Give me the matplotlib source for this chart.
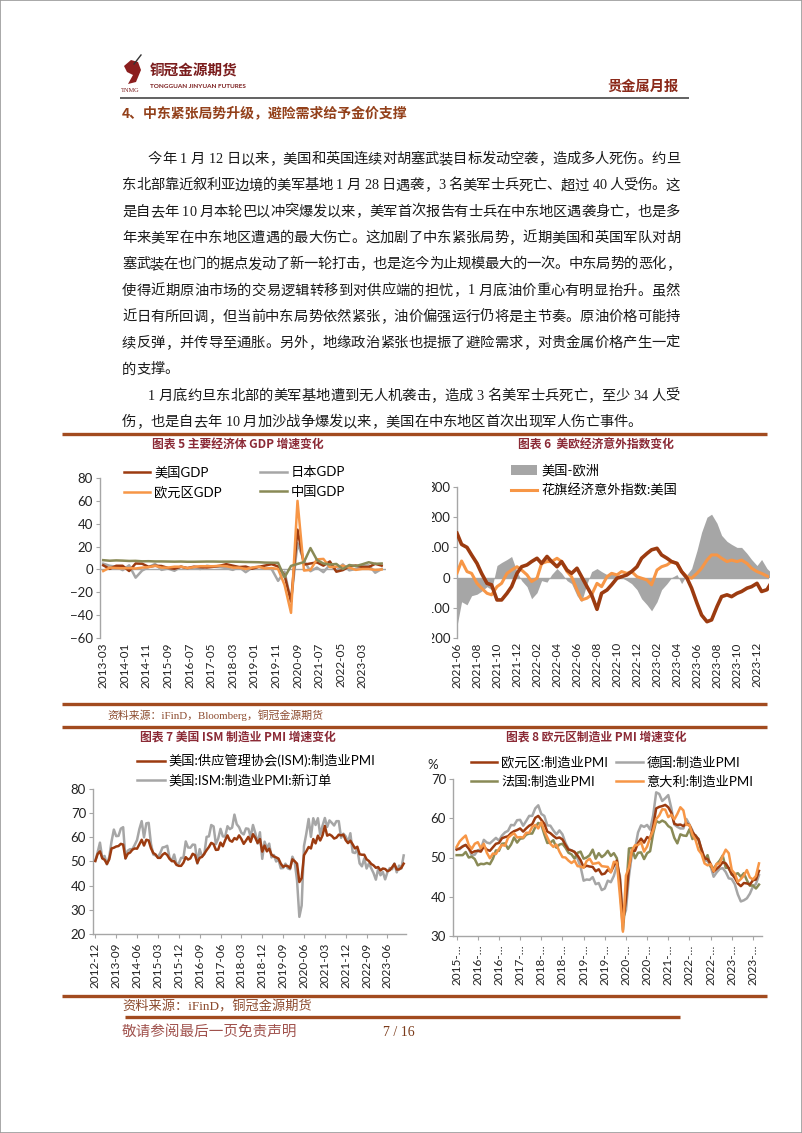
import numpy as np
import pandas as pd
import matplotlib
matplotlib.use('Agg')
import matplotlib.pyplot as plt
from matplotlib.transforms import Affine2D
from matplotlib.lines import Line2D
from matplotlib.patches import Patch, Rectangle, Polygon

# ---------------- data ----------------
# Chart 5: quarterly GDP growth (%), 2013Q1 .. 2023Q4
GDP_DATES = pd.date_range('2013-03-01', '2023-12-01', freq='3MS')
GDP_US = [3.6, 0.5, 3.2, 3.2, -1.4, 5.2, 5.0, 2.3, 3.2, 3.0, 1.3, 0.6,
          2.4, 1.2, 2.4, 2.0, 1.7, 2.3, 3.2, 4.6, 3.3, 2.1, 2.5, 0.6,
          2.2, 3.4, 4.6, 2.6, -5.3, -28.0, 34.8, 4.2, 5.2, 6.2, 3.3, 7.0,
          -2.0, -0.6, 2.7, 3.4, 2.2, 2.1, 4.9, 3.3]
GDP_JP = [5.0, 3.2, 2.4, -0.6, 3.6, -7.2, -1.0, 2.0, 4.8, -0.4, 0.8, -1.2,
          2.4, 0.8, 1.2, 0.4, 3.2, 2.4, 2.0, 1.2, -0.4, 2.0, -2.4, 1.6,
          2.4, 0.8, 0.4, -10.0, -2.0, -28.0, 22.9, 7.6, -1.6, 1.6, -2.4, 4.0,
          -1.2, 4.4, -0.8, 0.4, 3.2, 3.6, -2.9, 0.4]
GDP_EZ = [-1.4, 1.6, 1.2, 1.0, 1.2, 0.8, 1.6, 2.0, 3.2, 1.6, 1.6, 2.4,
          2.4, 1.2, 2.0, 2.8, 2.8, 2.8, 3.2, 2.8, 1.6, 1.6, 0.4, 1.6,
          2.4, 0.8, 1.2, 0.4, -13.6, -38.0, 60.0, -1.0, -0.4, 8.8, 9.2, 2.0,
          2.4, 3.2, 1.6, -0.4, 0.4, 0.4, -0.4, 0.0]
GDP_CN = [8.1, 7.6, 7.9, 7.7, 7.4, 7.5, 7.1, 7.2, 7.0, 7.0, 6.9, 6.8,
          6.9, 6.7, 6.7, 6.8, 6.9, 6.9, 6.8, 6.8, 6.8, 6.7, 6.5, 6.4,
          6.3, 6.0, 5.9, 5.8, -6.9, 3.1, 4.8, 6.4, 18.7, 8.3, 5.2, 4.3,
          4.8, 0.4, 3.9, 2.9, 4.5, 6.3, 4.9, 5.2]
GDP_TICKS = ['2013-03', '2014-01', '2014-11', '2015-09', '2016-07', '2017-05', '2018-03',
             '2019-01', '2019-11', '2020-09', '2021-07', '2022-05', '2023-03']

# Chart 6: Citi economic surprise indices (semi-monthly readings)
CESI_DATES = pd.date_range('2021-06-01', '2024-01-15', freq='SMS')
CESI_EU = [147, 110, 100, 75, 47, 14, -19, -24, -74, -74, -52, -30, 14, 36,
           42, 53, 64, 47, 70, 53, 36, 53, 25, 14, 31, 3, -30, -57, -105, -52,
           -41, -24, -2, 3, 9, 20, 36, 64, 80, 92, 97, 75, 64, 53, 47, 20,
           -2, -35, -85, -124, -146, -140, -96, -63, -57, -63, -52, -46, -35, -30,
           -19, -46, -40, -15]
CESI_US = [15, 55, 20, 14, -19, -35, -52, -57, -30, -19, 14, 25, 36, 25,
           9, -13, -2, 47, 53, 53, 64, 53, 20, 3, -41, -74, -68, -57, -19, -30,
           3, 14, 9, 20, 14, 20, 3, -2, -8, -24, 25, 36, 42, 53, 47, 20,
           3, -2, 14, 31, 58, 75, 75, 64, 53, 58, 53, 58, 47, 31,
           20, 14, 5, 0]
CESI_DIFF = [-160, -80, -90, -60, -55, -45, -30, -40, 40, 50, 60, 70, 20, -10,
             -30, -70, -50, -10, -15, 10, 30, 15, -10, -20, -60, -80, -20, 20, 30, 20,
             10, 20, 10, 0, -10, -20, -40, -70, -90, -110, -80, -40, -20, 0, 10, -20,
             10, 30, 90, 150, 200, 210, 180, 140, 120, 110, 100, 100, 80, 60,
             40, 60, 30, 15]
CESI_TICKS = ['2021-06', '2021-08', '2021-10', '2021-12', '2022-02', '2022-04', '2022-06',
              '2022-08', '2022-10', '2022-12', '2023-02', '2023-04', '2023-06', '2023-08',
              '2023-10', '2023-12']

# Chart 7: ISM manufacturing, 2012-12 .. 2024-01
ISM_DATES = pd.date_range('2012-12-01', '2024-01-01', freq='MS')
ISM_PMI = [50.2,
           53.1, 54.2, 51.3, 50.7, 49.0, 50.9, 55.4, 55.7, 56.2, 56.4, 57.3, 57.0,
           51.3, 53.2, 53.7, 54.9, 55.4, 55.3, 57.1, 59.0, 56.6, 59.0, 58.7, 55.5,
           53.5, 52.9, 51.5, 51.5, 52.8, 53.5, 52.7, 51.1, 50.2, 50.1, 48.6, 48.2,
           48.2, 49.5, 51.8, 50.8, 51.3, 53.2, 52.6, 49.4, 51.5, 51.9, 53.2, 54.7,
           56.0, 57.7, 57.2, 54.8, 54.9, 57.8, 56.3, 58.8, 60.8, 58.7, 58.2, 59.7,
           59.1, 60.8, 59.3, 57.3, 58.7, 60.2, 58.1, 61.3, 59.8, 57.7, 59.3, 54.1,
           56.6, 54.2, 55.3, 52.8, 52.1, 51.7, 51.2, 49.1, 47.8, 48.3, 48.1, 47.2,
           50.9, 50.1, 49.1, 41.5, 43.1, 52.6, 54.2, 56.0, 55.4, 59.3, 57.5, 60.7,
           58.7, 60.8, 64.7, 60.7, 61.2, 60.6, 59.5, 59.9, 61.1, 60.8, 61.1, 58.8,
           57.6, 58.6, 57.1, 55.4, 56.1, 53.0, 52.8, 52.8, 50.9, 50.2, 49.0, 48.4,
           47.4, 47.7, 46.3, 47.1, 46.9, 46.0, 46.4, 47.6, 49.0, 46.7, 46.7, 47.4,
           49.1]
ISM_NEW_ORDERS = [50.3,
                  53.8, 57.8, 51.4, 52.3, 48.8, 51.9, 58.3, 63.2, 60.5, 60.6, 63.6, 64.2,
                  51.2, 54.5, 55.1, 55.1, 56.9, 58.9, 63.4, 66.7, 60.0, 65.8, 66.0, 57.3,
                  52.9, 52.5, 51.8, 53.5, 55.8, 56.0, 56.5, 51.7, 50.1, 52.9, 48.9, 49.2,
                  51.5, 51.5, 58.3, 55.8, 55.7, 57.0, 56.9, 49.1, 55.1, 52.1, 53.0, 60.2,
                  60.4, 65.1, 64.5, 57.2, 59.5, 63.5, 60.4, 60.3, 64.6, 63.4, 64.0, 69.4,
                  65.4, 64.2, 61.9, 61.2, 63.7, 63.5, 60.2, 65.1, 61.8, 57.4, 62.1, 51.1,
                  58.2, 55.5, 57.4, 51.7, 52.7, 50.0, 50.8, 47.2, 47.3, 49.1, 47.2, 46.8,
                  52.0, 49.8, 42.2, 27.1, 31.8, 56.4, 61.5, 67.6, 60.2, 67.9, 65.1, 67.9,
                  61.1, 64.8, 68.0, 64.3, 67.0, 66.0, 64.9, 66.7, 66.7, 59.8, 61.5, 60.4,
                  57.9, 61.7, 53.8, 53.5, 55.1, 49.2, 48.0, 51.3, 47.1, 49.2, 47.2, 45.2,
                  42.5, 47.0, 44.3, 45.7, 42.6, 45.6, 47.3, 46.8, 49.2, 45.5, 48.3, 47.1,
                  52.5]
ISM_TICKS = ['2012-12', '2013-09', '2014-06', '2015-03', '2015-12', '2016-09', '2017-06',
             '2018-03', '2018-12', '2019-09', '2020-06', '2021-03', '2021-12', '2022-09',
             '2023-06']

# Chart 8: euro area manufacturing PMI, 2015-09 .. 2024-01
EPMI_DATES = pd.date_range('2015-09-01', '2024-01-01', freq='MS')
EPMI_EZ = [52.0, 52.3, 52.8, 53.2,
           52.3, 51.2, 51.6, 51.7, 51.5, 52.8, 52.0, 51.7, 52.6, 53.5, 53.7, 54.9,
           55.2, 55.4, 56.2, 56.7, 57.0, 57.4, 56.6, 57.4, 58.1, 58.5, 60.1, 60.6,
           59.6, 58.6, 56.6, 56.2, 55.5, 54.9, 55.1, 54.6, 53.2, 52.0, 51.8, 51.4,
           50.5, 49.3, 47.5, 47.9, 47.7, 47.6, 46.5, 47.0, 45.7, 45.9, 46.9, 46.3,
           47.9, 49.2, 44.5, 33.4, 39.4, 47.4, 51.8, 51.7, 53.7, 54.8, 53.8, 55.2,
           54.8, 57.9, 62.5, 62.9, 63.1, 63.4, 62.8, 61.4, 58.6, 58.3, 58.4, 58.0,
           58.7, 58.2, 56.5, 55.5, 54.6, 52.1, 49.8, 49.6, 48.4, 46.4, 47.1, 47.8,
           48.8, 48.5, 47.3, 45.8, 44.8, 43.4, 42.7, 43.5, 43.4, 43.1, 44.2, 44.4,
           46.6]
EPMI_DE = [52.3, 52.1, 52.9, 53.2,
           52.3, 50.5, 50.7, 51.8, 52.1, 54.5, 53.8, 53.6, 54.3, 55.0, 54.3, 55.6,
           56.4, 56.8, 58.3, 58.2, 59.5, 59.6, 58.1, 59.3, 60.6, 60.6, 62.5, 63.3,
           61.1, 60.6, 58.2, 58.1, 56.9, 55.9, 56.9, 55.9, 53.7, 52.2, 51.8, 51.5,
           49.7, 47.6, 44.1, 44.4, 44.3, 45.0, 43.2, 43.5, 41.7, 42.1, 44.1, 43.7,
           45.3, 48.0, 45.4, 34.5, 36.6, 45.2, 51.0, 52.2, 56.4, 58.2, 57.8, 58.3,
           57.1, 60.7, 66.6, 66.2, 64.4, 65.1, 65.9, 62.6, 58.4, 57.8, 57.4, 57.4,
           59.8, 58.4, 56.9, 54.6, 54.8, 52.0, 49.3, 49.1, 47.8, 45.1, 46.2, 47.1,
           47.3, 46.3, 44.7, 44.5, 43.2, 40.6, 38.8, 39.1, 39.6, 40.8, 42.6, 43.3,
           45.5]
EPMI_FR = [50.6, 50.6, 50.6, 51.4,
           50.0, 50.2, 49.6, 48.0, 48.4, 48.3, 48.6, 48.3, 49.7, 51.8, 51.7, 53.5,
           53.6, 52.2, 53.3, 55.1, 53.8, 54.8, 54.9, 55.8, 56.1, 56.1, 57.7, 58.8,
           58.4, 55.9, 53.7, 53.8, 54.4, 52.5, 53.3, 53.5, 52.5, 51.2, 50.8, 49.7,
           51.2, 51.5, 49.7, 50.0, 50.6, 52.0, 49.7, 51.1, 50.1, 50.7, 51.7, 50.4,
           51.1, 49.8, 43.2, 31.5, 40.6, 52.3, 52.4, 49.8, 51.2, 51.3, 49.6, 51.1,
           51.6, 56.1, 59.3, 58.9, 59.4, 59.0, 58.0, 57.5, 55.0, 53.6, 55.9, 55.6,
           55.5, 57.2, 54.7, 55.7, 54.6, 51.4, 49.5, 50.6, 47.7, 47.2, 48.3, 49.2,
           50.5, 47.4, 47.3, 45.6, 45.7, 46.0, 45.1, 46.0, 44.2, 42.8, 42.9, 42.1,
           43.1]
EPMI_IT = [52.7, 54.1, 54.9, 55.6,
           53.2, 52.2, 53.5, 53.9, 52.4, 53.5, 51.2, 49.8, 51.0, 50.9, 52.2, 53.2,
           53.0, 55.0, 55.7, 56.2, 55.1, 55.2, 55.1, 56.3, 56.3, 57.8, 58.3, 57.4,
           59.0, 56.8, 55.1, 53.5, 52.7, 53.3, 51.5, 50.1, 50.0, 49.2, 48.6, 49.2,
           47.8, 47.7, 47.4, 49.1, 49.7, 48.4, 48.5, 48.7, 47.8, 47.7, 47.6, 46.2,
           48.9, 48.7, 40.3, 31.1, 45.4, 47.5, 51.9, 53.1, 53.2, 53.9, 51.5, 52.8,
           55.1, 56.9, 59.8, 60.7, 62.3, 62.2, 60.3, 60.9, 59.7, 61.1, 62.8, 62.0,
           58.3, 58.3, 55.8, 54.5, 51.9, 50.9, 48.5, 48.0, 48.3, 46.5, 48.4, 48.5,
           50.4, 52.0, 51.1, 46.8, 45.9, 43.8, 44.5, 45.4, 46.8, 44.9, 44.4, 45.3,
           48.5]
EPMI_TICKS = ['2015-09', '2016-04', '2016-11', '2017-06', '2018-01', '2018-08', '2019-03',
              '2019-10', '2020-05', '2020-12', '2021-07', '2022-02', '2022-09', '2023-04',
              '2023-11']

# page text
SECTION_TITLE = '4、中东紧张局势升级，避险需求给予金价支撑'
BODY_LINES = [
    '今年 1 月 12 日以来，美国和英国连续对胡塞武装目标发动空袭，造成多人死伤。约旦',
    '东北部靠近叙利亚边境的美军基地 1 月 28 日遇袭，3 名美军士兵死亡、超过 40 人受伤。这',
    '是自去年 10 月本轮巴以冲突爆发以来，美军首次报告有士兵在中东地区遇袭身亡，也是多',
    '年来美军在中东地区遭遇的最大伤亡。这加剧了中东紧张局势，近期美国和英国军队对胡',
    '塞武装在也门的据点发动了新一轮打击，也是迄今为止规模最大的一次。中东局势的恶化，',
    '使得近期原油市场的交易逻辑转移到对供应端的担忧，1 月底油价重心有明显抬升。虽然',
    '近日有所回调，但当前中东局势依然紧张，油价偏强运行仍将是主节奏。原油价格可能持',
    '续反弹，并传导至通胀。另外，地缘政治紧张也提振了避险需求，对贵金属价格产生一定',
    '的支撑。',
    '1 月底约旦东北部的美军基地遭到无人机袭击，造成 3 名美军士兵死亡，至少 34 人受',
    '伤，也是自去年 10 月加沙战争爆发以来，美国在中东地区首次出现军人伤亡事件。',
]
INDENT_LINES = [0, 9]
LAST_LINES = [8, 10]

# ---------------- style ----------------
BROWN = '#9C3B10'
ORANGE = '#F79646'
GRAY = '#A6A6A6'
OLIVE = '#898A56'
RULE = '#A24B1F'
TITLE_RED = '#8B2A36'
AXIS_GRAY = '#A6A6A6'
CHART_FONT = ['Lato', 'Noto Sans CJK SC']
BODY_FONT = ['Liberation Serif', 'Noto Sans CJK SC']
CJK = ['Noto Sans CJK SC', 'DejaVu Sans']
plt.rcParams['font.family'] = CHART_FONT

W, H = 802, 1133
fig = plt.figure(figsize=(W / 100, H / 100), dpi=100)
fig.patch.set_facecolor('white')
PX = Affine2D().scale(1 / W, -1 / H).translate(0, 1) + fig.transFigure


def px_axes(l, t, r, b):
    return fig.add_axes([l / W, 1 - b / H, (r - l) / W, (b - t) / H])


def month_pos(dates, origin):
    d = pd.DatetimeIndex(pd.to_datetime(dates))
    o = pd.Timestamp(origin)
    return ((d.year - o.year) * 12 + (d.month - o.month) + (d.day - 1) / 30.5).to_numpy()


def hline(x0, x1, y, color, lw):
    fig.add_artist(Line2D([x0, x1], [y, y], transform=PX, color=color, lw=lw,
                          solid_capstyle='butt'))


def style_axes(ax, bottom_axis):
    for s in ['top', 'right']:
        ax.spines[s].set_visible(False)
    ax.spines['left'].set_color(AXIS_GRAY)
    ax.spines['left'].set_linewidth(1.0)
    if bottom_axis:
        ax.spines['bottom'].set_color(AXIS_GRAY)
        ax.spines['bottom'].set_linewidth(1.0)
        ax.tick_params(axis='x', length=3, color=AXIS_GRAY)
    else:
        ax.spines['bottom'].set_visible(False)
        ax.tick_params(axis='x', length=0)
    ax.tick_params(axis='y', length=3, color=AXIS_GRAY, labelsize=9.5,
                   labelcolor='#222222', pad=2)
    ax.tick_params(axis='x', labelsize=8.5, labelcolor='#222222', pad=3)
    ax.set_facecolor('none')


def set_xlabels(ax, ticks, origin, labels=None):
    ax.set_xticks(month_pos(ticks, origin))
    ax.set_xticklabels(labels if labels is not None else ticks, rotation=90)


def place_legend(ax, handles, labels, x, y, **kw):
    leg = ax.legend(handles, labels, loc='upper left',
                    bbox_to_anchor=(x / W, 1 - y / H), bbox_transform=fig.transFigure,
                    frameon=False, borderaxespad=0, borderpad=0, prop={'size': 9.5},
                    handletextpad=0.3, **kw)
    return leg


# ---------------- page header ----------------
fig.add_artist(Rectangle((0, 0), 1, 1, transform=fig.transFigure, fill=False,
                         ec='#9A9A9A', lw=1.2))
fig.add_artist(Polygon([(124, 66), (131, 60), (138, 62), (141, 70), (136, 82),
                        (128, 84), (133, 75), (127, 72)], closed=True, transform=PX,
                       fc='#8B1E1E', ec='none'))
fig.add_artist(Line2D([134, 141], [64, 55], transform=PX, color='#333333', lw=1))
fig.text(150, 71, '铜冠金源期货', transform=PX, family=CJK, fontsize=10.5,
         fontweight='bold', color='#7A1C1C', va='center', ha='left')
fig.text(150, 86, 'TONGGUAN JINYUAN FUTURES', transform=PX, family=CHART_FONT,
         fontsize=4.6, fontweight='bold', color='#7A1C1C', va='center', ha='left')
fig.text(121, 90, 'TNMG', transform=PX, family=BODY_FONT, fontsize=4.6,
         color='#7A1C1C', va='center', ha='left')
fig.text(679, 87, '贵金属月报', transform=PX, family=CJK, fontsize=10.3,
         fontweight='bold', color='#8B2A1A', va='center', ha='right')
hline(120, 689, 97.5, '#555555', 1.3)
fig.text(122, 113, SECTION_TITLE, transform=PX, family=CJK, fontsize=10,
         fontweight='bold', color='#93401A', va='center', ha='left')

# ---------------- body text (justified) ----------------
renderer = fig.canvas.get_renderer()
BODY_SIZE = 10.3
space_w = BODY_SIZE * 100 / 72 * 0.25


def draw_line(s, x0, y, x1=None):
    items, pending = [], 0
    for ch in s:
        if ch == ' ':
            pending += 1
            continue
        t = fig.text(0, 0, ch, transform=PX, family=BODY_FONT, fontsize=BODY_SIZE,
                     color='#1A1A1A', va='baseline', ha='left')
        items.append((t, pending))
        pending = 0
    widths = [t.get_window_extent(renderer).width for t, _ in items]
    natural = sum(widths) + sum(p for _, p in items) * space_w
    extra = 0.0
    if x1 is not None and len(items) > 1:
        extra = (x1 - x0 - natural) / (len(items) - 1)
    x = x0
    for i, (t, p) in enumerate(items):
        if i > 0:
            x += p * space_w + extra
        t.set_position((x, y))
        x += widths[i]


for i, line in enumerate(BODY_LINES):
    y = 163 + i * 26.3
    x0 = 148 if i in INDENT_LINES else 122
    draw_line(line, x0, y, None if i in LAST_LINES else 680)

# ---------------- rules and captions ----------------
hline(62, 767, 434, RULE, 2.4)
hline(62, 767, 704, RULE, 2.4)
hline(62, 767, 727, RULE, 2.4)
hline(62, 767, 996, RULE, 2.4)
hline(125, 680, 1017, RULE, 2.4)

fig.text(238, 445, '图表 5 主要经济体 GDP 增速变化', transform=PX, family=CJK, fontsize=8.5,
         fontweight='bold', color=TITLE_RED, va='center', ha='center')
fig.text(596, 445, '图表 6  美欧经济意外指数变化', transform=PX, family=CJK, fontsize=8.5,
         fontweight='bold', color=TITLE_RED, va='center', ha='center')
fig.text(238, 737, '图表 7 美国 ISM 制造业 PMI 增速变化', transform=PX, family=CJK, fontsize=8.5,
         fontweight='bold', color=TITLE_RED, va='center', ha='center')
fig.text(596, 737, '图表 8 欧元区制造业 PMI 增速变化', transform=PX, family=CJK, fontsize=8.5,
         fontweight='bold', color=TITLE_RED, va='center', ha='center')
fig.text(107, 715, '资料来源：iFinD，Bloomberg，铜冠金源期货', transform=PX, family=BODY_FONT,
         fontsize=7.8, color='#8C4B2E', va='center', ha='left')
fig.text(122, 1007, '资料来源：iFinD，铜冠金源期货', transform=PX, family=BODY_FONT,
         fontsize=9.5, color='#8C4B2E', va='center', ha='left')
fig.text(122, 1032, '敬请参阅最后一页免责声明', transform=PX, family=CJK, fontsize=10.5,
         color='#A0524D', va='center', ha='left', fontstyle='italic')
fig.text(399, 1032, '7 / 16', transform=PX, family=BODY_FONT, fontsize=10,
         color='#7B3B1A', va='center', ha='center')

# ---------------- chart 5: GDP ----------------
ax5 = px_axes(100, 478, 386, 638)
x5 = month_pos(GDP_DATES, '2013-03-01')
ax5.axhline(0, color=AXIS_GRAY, lw=1, zorder=1)
l_jp, = ax5.plot(x5, GDP_JP, color=GRAY, lw=1.8)
l_us, = ax5.plot(x5, GDP_US, color=BROWN, lw=1.8)
l_ez, = ax5.plot(x5, GDP_EZ, color=ORANGE, lw=1.8)
l_cn, = ax5.plot(x5, GDP_CN, color=OLIVE, lw=1.8)
ax5.set_xlim(-1.5, 131)
ax5.set_ylim(-60, 80)
ax5.set_yticks(range(-60, 81, 20))
style_axes(ax5, bottom_axis=False)
set_xlabels(ax5, GDP_TICKS, '2013-03-01')
place_legend(ax5, [l_us, l_ez, l_jp, l_cn], ['美国GDP', '欧元区GDP', '日本GDP', '中国GDP'],
             124, 466, ncol=2, handlelength=2.0, columnspacing=2.9, labelspacing=0.55)

# ---------------- chart 6: surprise indices ----------------
ax6 = px_axes(457, 487, 769, 638)
x6 = month_pos(CESI_DATES, '2021-06-01')
ax6.fill_between(x6, 0, CESI_DIFF, color=GRAY, lw=0, zorder=1)
ax6.axhline(0, color=AXIS_GRAY, lw=1, zorder=2)
l_cus, = ax6.plot(x6, CESI_US, color=ORANGE, lw=2.2, zorder=3)
ax6.plot(x6, CESI_EU, color=BROWN, lw=2.6, zorder=4)
ax6.set_xlim(0, 31.2)
ax6.set_ylim(-200, 300)
ax6.set_yticks(range(-200, 301, 100))
style_axes(ax6, bottom_axis=False)
set_xlabels(ax6, CESI_TICKS, '2021-06-01')
place_legend(ax6, [Patch(facecolor=GRAY), l_cus], ['美国-欧洲', '花旗经济意外指数:美国'],
             511, 464, ncol=1, handlelength=2.0, labelspacing=0.5)
fig.add_artist(Rectangle((400, 470), 32, 180, transform=PX, fc='white', ec='none',
                         zorder=10))

# ---------------- chart 7: ISM ----------------
ax7 = px_axes(93, 789, 406, 934)
x7 = month_pos(ISM_DATES, '2012-12-01')
l_pmi, = ax7.plot(x7, ISM_PMI, color=BROWN, lw=1.8, zorder=3)
l_no, = ax7.plot(x7, ISM_NEW_ORDERS, color=GRAY, lw=1.8, zorder=2)
ax7.set_xlim(-1, 134)
ax7.set_ylim(20, 80)
ax7.set_yticks(range(20, 81, 10))
style_axes(ax7, bottom_axis=True)
set_xlabels(ax7, ISM_TICKS, '2012-12-01')
place_legend(ax7, [l_pmi, l_no], ['美国:供应管理协会(ISM):制造业PMI', '美国:ISM:制造业PMI:新订单'],
             137, 754, ncol=1, handlelength=2.1, labelspacing=0.55)

# ---------------- chart 8: euro area PMI ----------------
ax8 = px_axes(453, 779, 762, 936)
x8 = month_pos(EPMI_DATES, '2015-09-01')
l_de, = ax8.plot(x8, EPMI_DE, color=GRAY, lw=1.8)
l_fr, = ax8.plot(x8, EPMI_FR, color=OLIVE, lw=1.8)
l_ez8, = ax8.plot(x8, EPMI_EZ, color=BROWN, lw=1.8)
l_it, = ax8.plot(x8, EPMI_IT, color=ORANGE, lw=1.8)
ax8.set_xlim(-1.2, 101)
ax8.set_ylim(30, 70)
ax8.set_yticks(range(30, 71, 10))
style_axes(ax8, bottom_axis=True)
set_xlabels(ax8, EPMI_TICKS, '2015-09-01', [t[:5] + '…' for t in EPMI_TICKS])
place_legend(ax8, [l_ez8, l_fr, l_de, l_it],
             ['欧元区:制造业PMI', '法国:制造业PMI', '德国:制造业PMI', '意大利:制造业PMI'],
             471, 756, ncol=2, handlelength=2.0, columnspacing=0.6, labelspacing=0.5)
fig.text(433, 765, '%', transform=PX, family=CHART_FONT, fontsize=9.5,
         color='#222222', va='center', ha='center')

fig.savefig('out.png', dpi=100, facecolor='white')
